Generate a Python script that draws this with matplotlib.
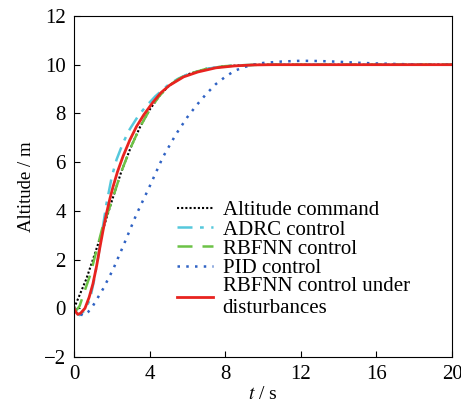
import numpy as np
import matplotlib
matplotlib.use("Agg")
import matplotlib.pyplot as plt

plt.rcParams["font.family"] = ["Liberation Serif", "DejaVu Serif"]
plt.rcParams["mathtext.fontset"] = "stix"

t_cmd = [0, 0.3, 0.65, 1.0, 1.3, 1.6, 2.0, 2.5, 3.0, 3.5, 4.0, 4.5, 5.0, 5.5,
         6.0, 7.0, 8.0, 9.0, 10, 12, 14, 16, 18, 20]
y_cmd = [0, 0.55, 1.2, 2.0, 2.7, 3.4, 4.4, 5.6, 6.6, 7.45, 8.15, 8.7, 9.12, 9.4,
         9.6, 9.83, 9.94, 9.98, 10.0, 10.0, 10.0, 10.0, 10.0, 10.0]

t_adrc = [0, 0.15, 0.3, 0.55, 0.84, 1.05, 1.28, 1.5, 1.72, 2.0, 2.25, 2.6, 2.95, 3.4,
          3.82, 4.3, 5.0, 5.5, 6.0, 7.0, 8.0, 9.0, 10, 12, 14, 16, 18, 20]
y_adrc = [0, -0.2, -0.28, -0.1, 0.35, 1.1, 2.1, 3.2, 4.3, 5.4, 6.1, 6.8, 7.35, 7.9,
          8.3, 8.7, 9.18, 9.42, 9.6, 9.83, 9.94, 9.98, 10.0, 10.0, 10.0, 10.0, 10.0, 10.0]

t_rbf = [0, 0.15, 0.3, 0.5, 0.84, 1.0, 1.2, 1.5, 2.0, 2.5, 3.0, 3.5, 4.0, 4.5, 5.0,
         5.5, 6.0, 7.0, 8.0, 9.0, 10, 12, 14, 16, 18, 20]
y_rbf = [0, -0.06, 0.1, 0.57, 1.33, 1.8, 2.4, 3.3, 4.4, 5.6, 6.6, 7.45, 8.15, 8.7, 9.12,
         9.4, 9.6, 9.83, 9.94, 9.98, 10.0, 10.0, 10.0, 10.0, 10.0, 10.0]

t_pid = [0, 0.25, 0.5, 0.75, 1.0, 1.54, 2.07, 2.6, 3.3, 4.0, 4.7, 5.4, 6.0, 6.5, 7.0,
         7.5, 8.0, 8.5, 9.0, 9.5, 10, 11, 12, 13, 14, 15, 16, 17, 18, 19, 20]
y_pid = [0, -0.2, -0.3, -0.15, 0.1, 0.8, 1.6, 2.55, 3.85, 5.0, 6.2, 7.15, 7.85, 8.35, 8.8,
         9.2, 9.5, 9.75, 9.9, 10.0, 10.07, 10.13, 10.16, 10.15, 10.12, 10.08,
         10.05, 10.03, 10.01, 10.0, 10.0]

t_dist = [0, 0.1, 0.2, 0.35, 0.58, 0.8, 1.0, 1.2, 1.37, 1.55, 1.72, 1.9, 2.07, 2.3, 2.6,
          2.95, 3.3, 3.7, 4.17, 4.6, 5.05, 5.8, 6.55, 7.5, 8.5, 9.5, 10.5, 12, 14, 16, 18, 20]
y_dist = [0, -0.15, -0.25, -0.2, 0.0, 0.45, 1.0, 1.75, 2.5, 3.25, 3.9, 4.5, 5.0, 5.6, 6.25,
          6.9, 7.45, 7.95, 8.45, 8.85, 9.15, 9.5, 9.7, 9.87, 9.95, 9.99, 10.0, 10.0, 10.0,
          10.0, 10.0, 10.0]

fig = plt.figure(figsize=(4.61, 4.09), dpi=100)
ax = fig.add_axes([0.1605, 0.127, 0.82, 0.834])

ax.plot(t_cmd, y_cmd, color="black", linestyle=(0, (1, 1)), lw=1.5, label="Altitude command")
ax.plot(t_adrc, y_adrc, color="#55c8dc", linestyle=(0, (6, 3, 1.5, 3)), lw=1.8, label="ADRC control")
ax.plot(t_rbf, y_rbf, color="#6cc246", linestyle=(0, (6, 4)), lw=1.8, label="RBFNN control")
ax.plot(t_pid, y_pid, color="#2f62c4", linestyle=(0, (1, 2.5)), lw=1.8, label="PID control")
ax.plot(t_dist, y_dist, color="#e8231f", lw=2.0, label="RBFNN control under\ndisturbances")

ax.set_xlim(0, 20)
ax.set_ylim(-2, 12)
ax.set_xticks(np.arange(0, 21, 4))
ax.set_yticks(np.arange(-2, 13, 2))
ax.tick_params(direction="in", labelsize=15, length=4, pad=6, top=False, right=False)
ax.set_yticklabels(["\u22122" if v < 0 else str(v) for v in range(-2, 13, 2)])
ax.set_xlabel("$t$ / s", fontsize=14, labelpad=1)
ax.set_ylabel("Altitude / m", fontsize=13.5, labelpad=6)

leg = ax.legend(loc="upper left", bbox_to_anchor=(0.272, 0.458), frameon=False, fontsize=15,
                handlelength=1.75, handletextpad=0.45, labelspacing=-0.02, borderpad=0,
                borderaxespad=0)
for txt in leg.get_texts():
    txt.set_linespacing(1.15)

fig.savefig("out.png", dpi=100)
